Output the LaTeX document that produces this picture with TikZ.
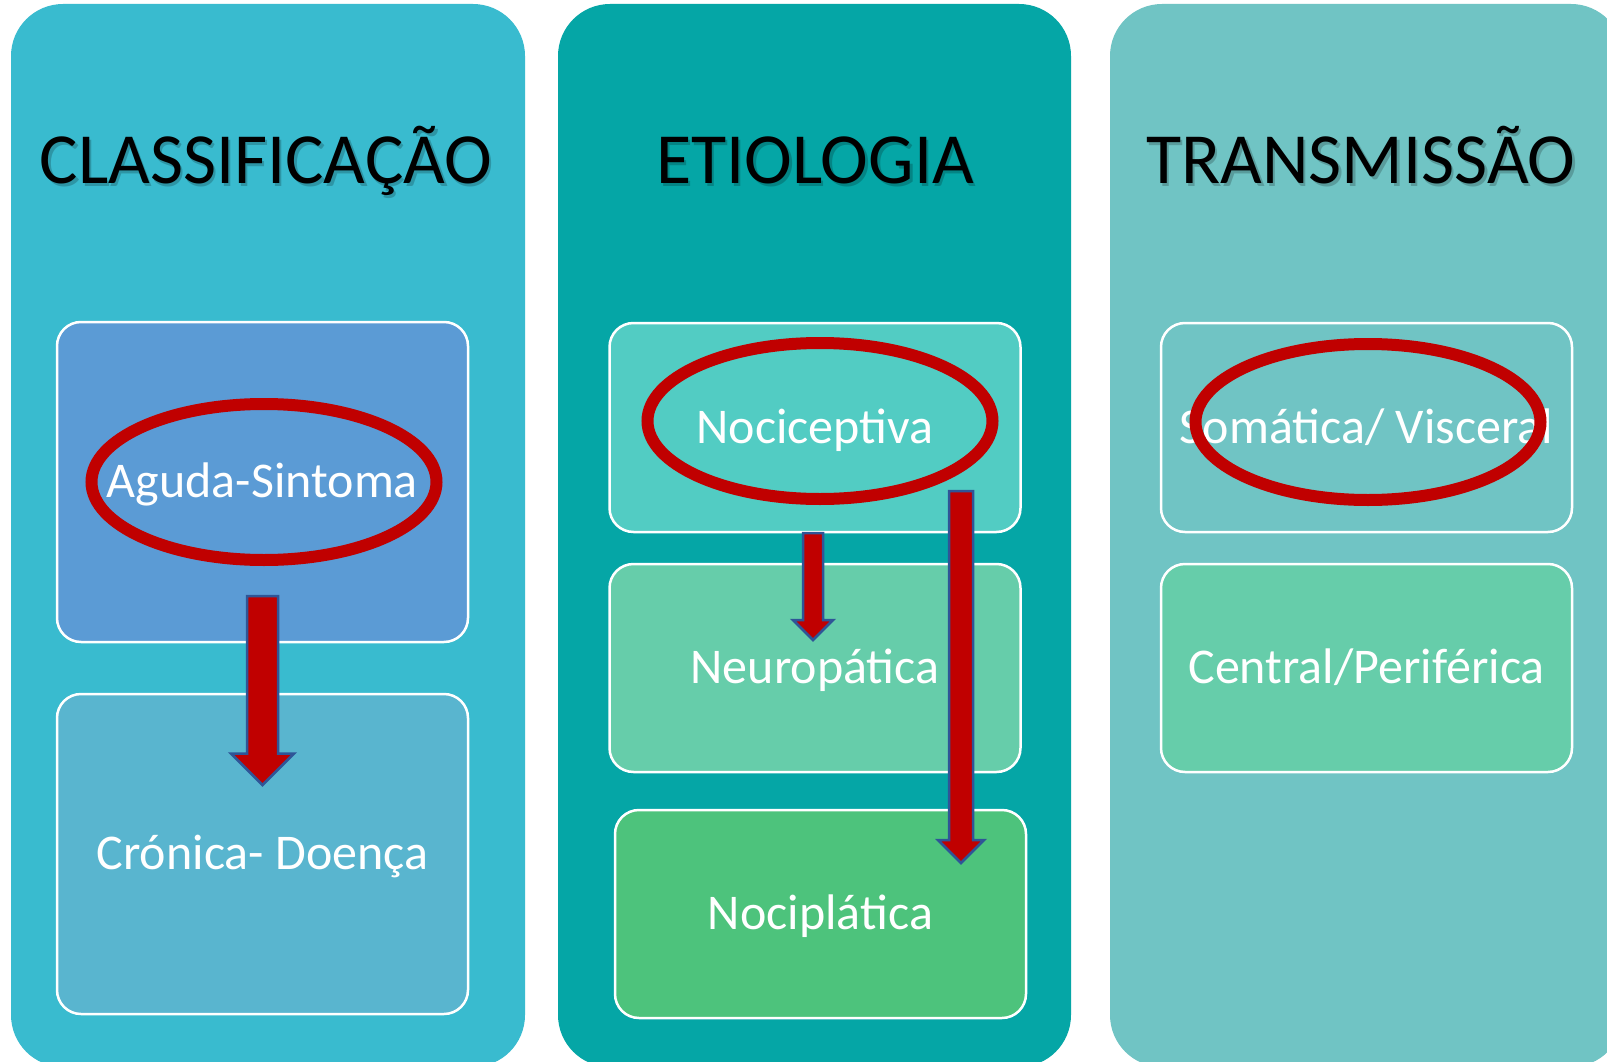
\documentclass[tikz,border=0pt]{standalone}
\usepackage{fontspec}
\setmainfont{Carlito}
\usetikzlibrary{
  calc,
  shapes.geometric
}
\definecolor{columnA}{HTML}{39BBCF}
\definecolor{columnB}{HTML}{05A6A6}
\definecolor{columnC}{HTML}{70C4C4}
\definecolor{boxBlue}{HTML}{5B9BD5}
\definecolor{boxSky}{HTML}{59B5CF}
\definecolor{boxAqua}{HTML}{52CCC3}
\definecolor{boxMint}{HTML}{66CDAA}
\definecolor{boxGreen}{HTML}{4DC37C}
\definecolor{ringRed}{HTML}{C00000}
\definecolor{arrowEdge}{HTML}{2F5597}
\tikzset{
  % Shared values that are assigned to different keys in the styles below.
  globals/column radius/.initial=52pt,
  globals/box radius/.initial=24pt,
  globals/box width/.initial=411pt,
%
  % For the three tall columns.
  column/.style={
    fill=#1,
    rounded corners=\pgfkeysvalueof{/tikz/globals/column radius}},
%
  % For the boxes inside the columns.  We both fill and draw.
  box/.style={
    fill=#1,
    draw=white,
    line width=2.5pt,
    rounded corners=\pgfkeysvalueof{/tikz/globals/box radius},
    minimum width=\pgfkeysvalueof{/tikz/globals/box width},
    inner sep=0pt,
    text height=39pt,
    text depth=8pt,
    text=white,
    font={\fontsize{50pt}{60pt}\selectfont}},
%
  % For column headings.
  heading/.style={
    anchor=base,
    inner sep=0pt,
    font={\fontsize{72pt}{86pt}\selectfont}},
%
  % For the soft shadow behind a heading.
  heading shadow/.style={
    heading,
    text=black,
    text opacity=0.2},
%
  % For red rings round the chosen items.
  ring/.style={
    ellipse,
    draw=ringRed,
    line width=12pt,
    inner sep=0pt,
    minimum width=345pt,
    minimum height=156pt},
%
  % For thick block arrows.
  block arrow/.style={
    fill=ringRed,
    draw=arrowEdge,
    line width=2.5pt,
    line join=miter}
}

\begin{document}
\begin{tikzpicture}[x=1pt,y=-1pt]
  \def\heading#1#2#3{%
    \node[heading shadow] at ($(#2)+(2.5,2.5)$) {#3};
    \node[heading] (#1) at (#2) {#3};}
  % #1 top, #2 tip, #3 half shaft width, #4 half head width (= head length)
  \def\blockarrow#1#2#3#4{%
    \draw[block arrow] let \p1=(#1), \p2=(#2) in
      (\x1-#3,\y1) -- (\x1+#3,\y1) -- (\x1+#3,\y2+#4) -- (\x1+#4,\y2+#4)
      -- (\x2,\y2) -- (\x1-#4,\y2+#4) -- (\x1-#3,\y2+#4) -- cycle;}

  \useasboundingbox (0,0) rectangle (1607,1062);
  \fill[white] (0,0) rectangle (1607,1062);
  \clip (0,0) rectangle (1607,1062);

  % Columns.
  \fill[column=columnA] (11,4) rectangle (525,1067);
  \fill[column=columnB] (558,4) rectangle (1071,1067);
  \fill[column=columnC] (1110,4) rectangle (1623,1067);

  \heading{classification}{266,184}{CLASSIFICAÇÃO}
  \heading{etiology}{815,184}{ETIOLOGIA}
  \heading{transmission}{1361,184}{TRANSMISSÃO}

  % Boxes.
  \node[box=boxBlue, minimum height=320pt] (acute) at (262.5,482) {Aguda-Sintoma};
  \node[box=boxSky, minimum height=320pt] (chronic) at (262.5,854) {Crónica- Doença};

  \node[box=boxAqua, minimum height=209pt] (nociceptive) at (815,427.5) {Nociceptiva};
  \node[box=boxMint, minimum height=208pt] (neuropathic) at (815,668) {Neuropática};
  \node[box=boxGreen, minimum height=208pt] (nociplastic) at (820.5,914) {Nociplática};

  \node[box=columnC, minimum height=209pt] (somatic) at (1366.5,427.5) {Somática/ Visceral};
  \node[box=boxMint, minimum height=208pt] (central) at (1366.5,668) {Central/Periférica};

  % Rings.
  \node[ring] (acute ring) at (264,482) {};
  \node[ring] (nociceptive ring) at (820,421) {};
  \node[ring] (somatic ring) at (1368,422) {};

  % Arrows.
  \coordinate (acute top) at (262.5,596);
  \coordinate (chronic tip) at (262.5,785);
  \coordinate (nociceptive top) at (813,533);
  \coordinate (neuropathic tip) at (813,640);
  \coordinate (long top) at (961,491);
  \coordinate (nociplastic tip) at (961,863);

  \blockarrow{acute top}{chronic tip}{15.5}{31.5}
  \blockarrow{nociceptive top}{neuropathic tip}{10}{20}
  \blockarrow{long top}{nociplastic tip}{12}{23}
\end{tikzpicture}
\end{document}
